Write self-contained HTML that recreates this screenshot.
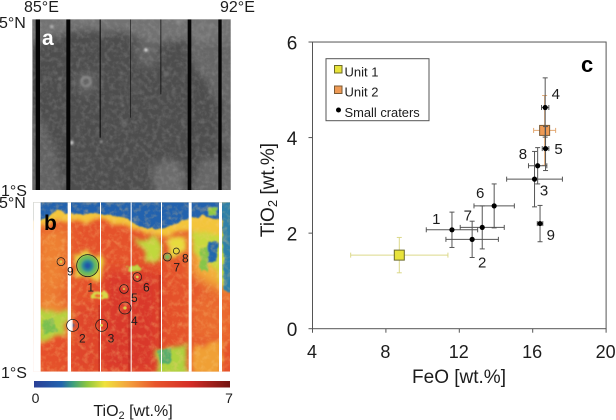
<!DOCTYPE html>
<html>
<head>
<meta charset="utf-8">
<style>
html,body{margin:0;padding:0;background:#fff;}
svg{display:block;}
text{font-family:"Liberation Sans",sans-serif;fill:#1c1c1c;}
</style>
</head>
<body>
<svg id="fig" width="616" height="420" viewBox="0 0 616 420" xmlns="http://www.w3.org/2000/svg">
<defs>
  <filter id="b3" x="-20%" y="-20%" width="140%" height="140%"><feGaussianBlur stdDeviation="3"/></filter>
  <filter id="b16" x="-30%" y="-30%" width="160%" height="160%"><feGaussianBlur stdDeviation="18"/></filter>
  <filter id="wobA" x="-15%" y="-15%" width="130%" height="130%">
    <feTurbulence type="fractalNoise" baseFrequency=".018" numOctaves="3" seed="7" result="n"/>
    <feDisplacementMap in="SourceGraphic" in2="n" scale="40" xChannelSelector="R" yChannelSelector="G" result="d"/>
    <feGaussianBlur in="d" stdDeviation="11"/>
  </filter>
  <filter id="wob" x="-15%" y="-15%" width="130%" height="130%">
    <feTurbulence type="fractalNoise" baseFrequency=".022" numOctaves="3" seed="7" result="n"/>
    <feDisplacementMap in="SourceGraphic" in2="n" scale="45" xChannelSelector="R" yChannelSelector="G" result="d"/>
    <feGaussianBlur in="d" stdDeviation="6"/>
  </filter>
  <filter id="wobS" x="-15%" y="-15%" width="130%" height="130%">
    <feTurbulence type="fractalNoise" baseFrequency=".05" numOctaves="3" seed="11" result="n"/>
    <feDisplacementMap in="SourceGraphic" in2="n" scale="14" xChannelSelector="R" yChannelSelector="G" result="d"/>
    <feGaussianBlur in="d" stdDeviation="2.5"/>
  </filter>
  <filter id="noise" x="0" y="0" width="100%" height="100%">
    <feTurbulence type="fractalNoise" baseFrequency=".07" numOctaves="3" seed="3"/>
    <feColorMatrix type="matrix" values="0 0 0 0 .5  0 0 0 0 .5  0 0 0 0 .5  1.6 0 0 0 -.62"/>
  </filter>
  <filter id="noiseY" x="0" y="0" width="100%" height="100%">
    <feTurbulence type="fractalNoise" baseFrequency=".06" numOctaves="3" seed="21"/>
    <feColorMatrix type="matrix" values="0 0 0 0 .96  0 0 0 0 .6  0 0 0 0 .2  2.4 0 0 0 -1.05"/>
  </filter>
  <clipPath id="clipA"><rect x="97" y="58" width="595" height="512"/></clipPath>
  <clipPath id="clipB"><rect x="100" y="22" width="590" height="508"/></clipPath>
  <linearGradient id="cbar" x1="0" x2="1" y1="0" y2="0">
    <stop offset="0" stop-color="#2a3f97"/><stop offset=".14" stop-color="#2263ae"/>
    <stop offset=".2" stop-color="#3f9f7c"/><stop offset=".27" stop-color="#8cc63f"/>
    <stop offset=".36" stop-color="#efe23c"/><stop offset=".48" stop-color="#f3a33e"/>
    <stop offset=".62" stop-color="#e8552c"/><stop offset=".8" stop-color="#d42d27"/>
    <stop offset="1" stop-color="#731512"/>
  </linearGradient>
</defs>

<rect width="616" height="420" fill="#fff"/>

<!-- panel a -->
<g transform="scale(.33333)" clip-path="url(#clipA)">
  <rect x="97" y="58" width="595" height="512" fill="#4d4d4d"/>
  <g filter="url(#wobA)" fill="#727272">
    <polygon points="60,20 730,20 730,135 570,122 470,135 400,108 330,95 250,88 200,105 60,135"/>
    <polygon points="570,125 730,115 730,340 650,300 610,230 570,200" fill="#666"/>
    <polygon points="400,125 480,125 465,215 425,200" fill="#626262"/>
    <polygon points="60,320 140,370 170,460 190,600 60,600" fill="#626262"/>
    <polygon points="455,500 540,480 560,600 455,600" fill="#6c6c6c"/>
    <polygon points="590,480 730,460 730,600 580,600" fill="#666"/>
    <polygon points="650,340 730,300 730,470 660,440" fill="#626262"/>
    <circle cx="258" cy="245" r="38" fill="#5e5e5e"/>
  </g>
  <rect x="97" y="58" width="595" height="512" filter="url(#noise)" opacity=".3"/>
  <g filter="url(#b3)">
    <circle cx="258" cy="245" r="14" fill="none" stroke="#8f8f8f" stroke-width="6"/>
    <circle cx="438" cy="150" r="5" fill="#eee"/>
    <circle cx="215" cy="428" r="6" fill="#ccc"/>
    <circle cx="304" cy="425" r="4" fill="#aaa"/>
    <circle cx="373" cy="373" r="6" fill="none" stroke="#888" stroke-width="3"/>
    <circle cx="155" cy="80" r="5" fill="#bbb"/>
    <circle cx="610" cy="92" r="20" fill="none" stroke="#808080" stroke-width="5"/>
    <circle cx="500" cy="222" r="8" fill="#6a6a6a"/>
    <circle cx="180" cy="235" r="4" fill="#8a8a8a"/>
    <circle cx="368" cy="316" r="4" fill="#7a7a7a"/>
    <circle cx="630" cy="275" r="5" fill="#7a7a7a"/>
    <circle cx="646" cy="465" r="4" fill="#8a8a8a"/>
    <circle cx="535" cy="66" r="7" fill="#8a8a8a"/>
    <circle cx="408" cy="255" r="12" fill="none" stroke="#666" stroke-width="3"/>
  </g>
  <g fill="#050505">
    <rect x="107" y="58" width="13" height="512"/>
    <rect x="199" y="58" width="12" height="512"/>
    <rect x="299" y="58" width="3" height="355"/>
    <rect x="391" y="58" width="2" height="295" opacity=".8"/>
    <rect x="481" y="58" width="3" height="225" opacity=".7"/>
    <rect x="563" y="58" width="11" height="512"/>
    <rect x="655" y="58" width="10" height="512"/>
  </g>
</g>

<!-- panel b -->
<g transform="translate(0,195) scale(.33333)" clip-path="url(#clipB)">
  <rect x="100" y="22" width="590" height="508" fill="#e5522b"/>
  <g filter="url(#b16)">
    <polygon points="110,110 210,90 200,300 110,290" fill="#ee8032"/>
    <polygon points="575,110 700,120 700,290 640,280 575,240" fill="#f2b03a"/>
    <polygon points="575,300 700,300 700,440 575,440" fill="#ea6a2e"/>
    <polygon points="110,290 200,320 210,440 110,440" fill="#ee8a35"/>
    <polygon points="310,230 480,230 480,530 310,530" fill="#d9382a"/>
    <polygon points="215,330 300,330 300,530 215,530" fill="#df4529"/>
  </g>
  <g filter="url(#wob)">
    <polygon points="80,0 710,0 710,125 595,112 560,105 490,125 430,125 375,90 300,78 210,78 125,95 80,100" fill="#f3c53a"/>
    <polygon points="405,135 470,130 495,195 440,195" fill="#c0d83e"/>
    <polygon points="500,130 565,125 555,165 505,180" fill="#e8dc3e"/>
    <polygon points="575,110 710,120 710,300 665,275 640,200 575,175" fill="#c8d93c"/>
    <polygon points="110,345 200,350 200,450 150,430 110,430" fill="#b4d33f"/>
    <polygon points="470,460 555,450 560,545 470,545" fill="#aed33f"/>
    <polygon points="580,450 660,440 660,540 580,540" fill="#f0a036"/>
    <polygon points="130,430 205,425 205,500 135,505" fill="#e5502b"/>
    <polygon points="225,180 305,180 300,255 230,260" fill="#e6dc3f"/>
  </g>
  <g filter="url(#wobS)">
    <polygon points="80,0 710,0 710,75 640,72 610,62 560,72 490,100 430,100 380,72 300,55 210,58 170,45 125,78 80,78" fill="#2162ae"/>
    <polygon points="665,10 710,10 710,305 672,285 668,150" fill="#2f80a8"/>
    <polygon points="625,140 655,140 650,200 625,205 620,170" fill="#2468ad"/>
    <polygon points="622,40 650,35 650,60 625,60" fill="#8fc943"/>
    <polygon points="472,468 510,460 510,505 480,505" fill="#55ad6c"/>
    <polygon points="125,375 160,370 170,410 130,420" fill="#79c04f"/>
    <polygon points="600,160 625,155 625,230 600,225" fill="#86c54a"/>
    <ellipse cx="300" cy="302" rx="28" ry="13" fill="#d6d845"/>
    <ellipse cx="296" cy="304" rx="10" ry="6" fill="#ec6530"/>
    <ellipse cx="403" cy="220" rx="22" ry="10" fill="#b9d540"/>
  </g>
  <rect x="100" y="22" width="590" height="508" filter="url(#noiseY)" opacity=".35"/>
  <g filter="url(#b3)">
    <circle cx="263" cy="212" r="32" fill="#6cba5a"/>
    <circle cx="263" cy="212" r="19" fill="#2c8a96"/>
    <circle cx="263" cy="212" r="10" fill="#2357a8"/>
    <circle cx="502" cy="186" r="9" fill="#78bd5c"/>
    <circle cx="218" cy="391" r="5" fill="#2a5ba6"/>
  </g>
  <g fill="#a8211c" opacity=".45">
    <rect x="295" y="330" width="7" height="200"/>
    <rect x="385" y="340" width="8" height="190"/>
    <rect x="476" y="240" width="8" height="220"/>
  </g>
  <g fill="#fff">
    <rect x="100" y="22" width="22" height="508"/>
    <rect x="203" y="22" width="10" height="508"/>
    <rect x="300" y="22" width="3" height="508"/>
    <rect x="392" y="22" width="3" height="508"/>
    <rect x="483" y="22" width="3" height="508"/>
    <rect x="566" y="22" width="9" height="508"/>
    <rect x="657" y="22" width="9" height="508"/>
  </g>
  <path d="M218 373a18 18 0 0 0 0 36z" fill="#fff" opacity=".9"/>
  <g fill="#d9cf4a">
    <circle cx="183" cy="200" r="4"/><circle cx="305" cy="391" r="4"/><circle cx="375" cy="339" r="5"/>
    <circle cx="372" cy="282" r="3"/><circle cx="412" cy="246" r="4"/>
  </g>
  <g fill="none" stroke="#1a1a1a" stroke-width="2.2">
    <circle cx="263" cy="212" r="33"/><circle cx="218" cy="391" r="18"/><circle cx="305" cy="391" r="18"/>
    <circle cx="375" cy="339" r="18"/><circle cx="372" cy="282" r="13"/><circle cx="412" cy="246" r="13"/>
    <circle cx="502" cy="186" r="12"/><circle cx="529" cy="168" r="9"/><circle cx="183" cy="200" r="12"/>
  </g>
  <g font-size="36" text-anchor="middle">
    <text x="272" y="290">1</text><text x="247" y="443">2</text><text x="333" y="443">3</text>
    <text x="403" y="390">4</text><text x="403" y="321">5</text><text x="439" y="290">6</text>
    <text x="530" y="230">7</text><text x="556" y="203">8</text><text x="211" y="242">9</text>
  </g>
</g>

<!-- panel letters and coordinates -->
<text x="24" y="12" font-size="16">85°E</text>
<text x="220" y="12" font-size="16">92°E</text>
<text x="-1" y="28" font-size="16">5°N</text>
<text x="1" y="196" font-size="16">1°S</text>
<text x="-1" y="208" font-size="16">5°N</text>
<text x="1" y="378" font-size="16">1°S</text>
<text x="42" y="45" font-size="21" font-weight="bold" style="fill:#fff">a</text>
<text x="44" y="230" font-size="21" font-weight="bold" style="fill:#000">b</text>

<!-- colour bar -->
<rect x="34" y="381" width="196" height="6.5" fill="url(#cbar)"/>
<text x="35.5" y="403" font-size="14" text-anchor="middle">0</text>
<text x="229" y="403" font-size="14" text-anchor="middle">7</text>
<text x="133" y="416" font-size="16" text-anchor="middle">TiO<tspan font-size="11" dy="3">2</tspan><tspan dy="-3"> [wt.%]</tspan></text>

<!-- panel c -->
<g id="chart"></g>
</svg>

<script>
var craterNames = ['1','2','3','4','5','6','7','8','9'];
var craterFeO = [11.6,12.7,16.1,16.68,16.7,13.9,13.25,16.27,16.4];
var craterTiO2 = [2.07,1.87,3.13,4.63,3.77,2.57,2.12,3.41,2.2];
var craterFeOErr = [1.4,1.43,1.52,0.2,0.18,1.1,1.2,0.5,0.15];
var craterTiO2Err = [0.37,0.38,0.58,0.62,0.46,0.46,0.45,0.38,0.38];
var unitNames = ['Unit 1','Unit 2'];
var unitFeO = [8.73,16.65];
var unitTiO2 = [1.54,4.15];
var unitFeOErr = [2.65,0.6];
var unitTiO2Err = [0.37,0.73];
var xTicks = [4,8,12,16,20];
var yTicks = [0,2,4,6];

function sx(v){return 312.5+(v-4)*18.35;}
function sy(v){return 328.7-v*47.78;}

var NS='http://www.w3.org/2000/svg';
var chart=document.getElementById('chart');
function mk(tag,attrs,parent){
  var e=document.createElementNS(NS,tag);
  for(var k in attrs){e.setAttribute(k,attrs[k]);}
  (parent||chart).appendChild(e);
  return e;
}
function errorBars(cx,cy,ex,ey,color,w,cap,parent){
  var x=sx(cx),y=sy(cy),x0=sx(cx-ex),x1=sx(cx+ex),y0=sy(cy-ey),y1=sy(cy+ey);
  mk('line',{x1:x0,x2:x1,y1:y,y2:y,stroke:color,'stroke-width':w},parent);
  mk('line',{x1:x,x2:x,y1:y0,y2:y1,stroke:color,'stroke-width':w},parent);
  mk('line',{x1:x0,x2:x0,y1:y-cap,y2:y+cap,stroke:color,'stroke-width':w},parent);
  mk('line',{x1:x1,x2:x1,y1:y-cap,y2:y+cap,stroke:color,'stroke-width':w},parent);
  mk('line',{x1:x-cap,x2:x+cap,y1:y0,y2:y0,stroke:color,'stroke-width':w},parent);
  mk('line',{x1:x-cap,x2:x+cap,y1:y1,y2:y1,stroke:color,'stroke-width':w},parent);
}

var frame=mk('rect',{x:sx(4),y:sy(6),width:sx(20)-sx(4),height:sy(0)-sy(6),fill:'none',stroke:'#555','stroke-width':1});



xTicks.forEach(function(t){
  var l=mk('line',{x1:sx(t),x2:sx(t),y1:sy(0),y2:sy(0)+4,stroke:'#555','stroke-width':1});
  
  
  var tx=mk('text',{x:sx(t)-0.5,y:358,'font-size':18,'text-anchor':'middle'});
  
  
  tx.textContent=t;
});
yTicks.forEach(function(t){
  var l=mk('line',{x1:sx(4)-4,x2:sx(4),y1:sy(t),y2:sy(t),stroke:'#555','stroke-width':1});
  
  
  var tx=mk('text',{x:292,y:sy(t)+7.5,'font-size':19,'text-anchor':'middle'});
  
  
  tx.textContent=t;
});

var xt=mk('text',{x:459,y:383,'font-size':19,'text-anchor':'middle'});


xt.textContent='FeO [wt.%]';

var yt=mk('text',{x:0,y:0,'font-size':19,'text-anchor':'middle',transform:'translate(274,190) rotate(-90)'});


yt.appendChild(document.createTextNode('TiO'));
var sub=mk('tspan',{'font-size':13,dy:3},yt);
sub.textContent='2';
var rest=mk('tspan',{dy:-3},yt);
rest.textContent=' [wt.%]';

var unitColors=['#e8e33a','#ee9a55'];
var unitBarColors=['#dcd98a','#e2a872'];
var unitBorder=['#6b6a2a','#7a5a35'];
unitNames.forEach(function(n,i){
  var g=mk('g',{});
  
  
  errorBars(unitFeO[i],unitTiO2[i],unitFeOErr[i],unitTiO2Err[i],unitBarColors[i],1,2.5,g);
  mk('rect',{x:sx(unitFeO[i])-5,y:sy(unitTiO2[i])-5,width:10,height:10,fill:unitColors[i],stroke:unitBorder[i],'stroke-width':1},g);
});

var labelDx=[-15.7,10,9.5,10.6,13,-14,-14.5,-14.7,10.7];
var labelDy=[-6,28,16.6,-8.5,5.4,-7.7,-6.7,-6.7,16.6];
craterNames.forEach(function(n,i){
  var g=mk('g',{});
  
  
  errorBars(craterFeO[i],craterTiO2[i],craterFeOErr[i],craterTiO2Err[i],'#555',1,2.5,g);
  mk('circle',{cx:sx(craterFeO[i]),cy:sy(craterTiO2[i]),r:2.6,fill:'#000'},g);
  var t=mk('text',{x:sx(craterFeO[i])+labelDx[i],y:sy(craterTiO2[i])+labelDy[i],'font-size':15,'text-anchor':'middle'},g);
  t.textContent=n;
});
</script>

<svg style="position:absolute;left:0;top:0" width="616" height="420" viewBox="0 0 616 420" xmlns="http://www.w3.org/2000/svg">
  <g>
    <rect x="326" y="58.7" width="103" height="62" fill="#fff" stroke="#555" stroke-width="1"/>
    <rect x="334.5" y="65.5" width="7.5" height="7.5" fill="#e8e33a" stroke="#6b6a2a" stroke-width="1"/>
    <text x="344.5" y="76.5" font-size="13">Unit 1</text>
    <rect x="334.5" y="86" width="7.5" height="7.5" fill="#ee9a55" stroke="#7a5a35" stroke-width="1"/>
    <text x="344.5" y="96.5" font-size="13">Unit 2</text>
    <circle cx="338.5" cy="110" r="2.5" fill="#000"/>
    <text x="344.5" y="117" font-size="12.9">Small craters</text>
  </g>
  <text x="581" y="72" font-size="22" font-weight="bold" style="fill:#000">c</text>
</svg>
</body>
</html>
